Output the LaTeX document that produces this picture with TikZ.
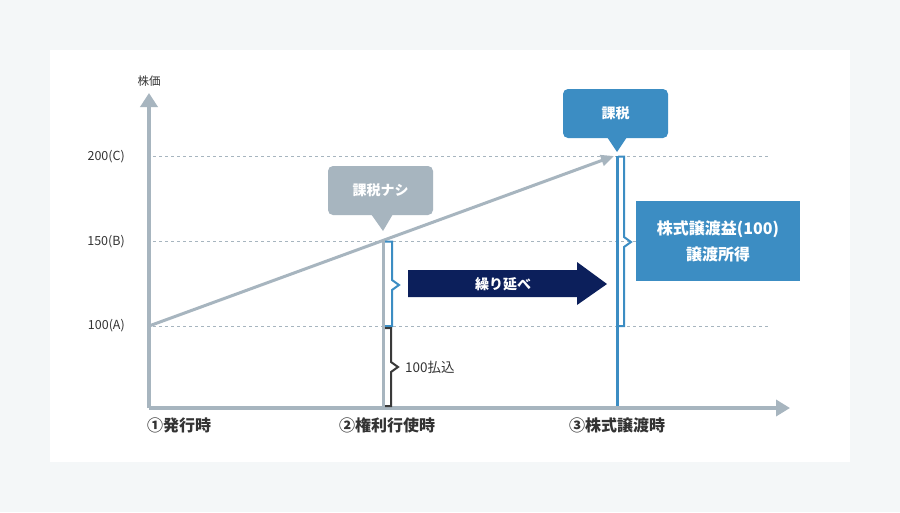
\documentclass[tikz,border=0pt]{standalone}
\usepackage{fontspec}
\setmainfont{Noto Sans CJK JP}
\usetikzlibrary{arrows.meta}
\definecolor{bgc}{HTML}{F4F7F8}
\definecolor{axisc}{HTML}{A7B5BF}
\definecolor{bluec}{HTML}{3C8DC3}
\definecolor{navyc}{HTML}{0C1F5B}
\definecolor{txtc}{HTML}{333333}
\definecolor{darkc}{HTML}{3A3A3A}
\tikzset{
  axisline/.style={draw=axisc,line width=3.5pt},
  gridline/.style={draw=axisc,line width=1pt,dash pattern=on 3pt off 3pt},
  vlabel/.style={anchor=east,font=\fontsize{12.5}{14}\selectfont,text=txtc,inner sep=0pt},
  tlabel/.style={anchor=west,font=\fontsize{16}{19}\selectfont\bfseries,text=txtc,inner sep=0pt},
  bubble/.style={rounded corners=5pt,text=white,font=\fontsize{14}{16}\selectfont\bfseries,inner sep=0pt},
  bracketline/.style={line width=2pt,line join=miter},
}
\begin{document}
\begin{tikzpicture}[x=1pt,y=-1pt]
\useasboundingbox (0,0) rectangle (900,512);
\fill[bgc] (0,0) rectangle (900,512);
\fill[white] (50,50) rectangle (850,462);
% coordinates
\coordinate (O) at (149,408);
\coordinate (Ytop) at (149,93);
\coordinate (Xend) at (790,408);
\coordinate (A) at (149,326);
\coordinate (C) at (614,156);
% grid lines
\coordinate (g1s) at (153,156); \coordinate (g1e) at (768,156);
\coordinate (g2s) at (153,241); \coordinate (g2e) at (768,241);
\coordinate (g3s) at (153,326); \coordinate (g3e) at (768,326);
\draw[gridline] (g1s) -- (g1e);
\draw[gridline] (g2s) -- (g2e);
\draw[gridline] (g3s) -- (g3e);
% value labels
\node[vlabel] (l200) at (125,157) {200(C)};
\node[vlabel] (l150) at (125,242) {150(B)};
\node[vlabel] (l100) at (125,326) {100(A)};
\node[font=\fontsize{11.5}{13}\selectfont,text=txtc,inner sep=0pt] (kabuka) at (149,81) {株価};
% diagonal
\draw[draw=axisc,line width=3pt,-{Triangle[length=13pt,width=11pt]}] (A) -- (C);
% vertical bars
\coordinate (B2) at (383,241);
\coordinate (B2b) at (383,408);
\draw[draw=axisc,line width=3pt] (B2) -- (B2b);
\coordinate (C3) at (617,156);
\coordinate (C3b) at (617,408);
\draw[draw=bluec,line width=3pt] (C3) -- (C3b);
% axes
\draw[axisline,-{Triangle[length=14pt,width=17pt]}] (O) -- (Ytop);
\draw[axisline,-{Triangle[length=14pt,width=16pt]}] (O) -- (Xend);
% brackets
\draw[bracketline,draw=bluec] (385,241.5) -- (392,241.5) -- (392,280) -- (399,285) -- (392,290) -- (392,326) -- (385,326);
\draw[bracketline,draw=darkc] (385,328) -- (391,328) -- (391,362) -- (398,367) -- (391,372) -- (391,406) -- (385,406);
\draw[bracketline,draw=bluec] (618,156.5) -- (624,156.5) -- (624,237) -- (631,242) -- (624,247) -- (624,326) -- (618,326);
\node[anchor=west,font=\fontsize{13.5}{15}\selectfont,text=txtc,inner sep=0pt] (harai) at (405,367) {100払込};
% bubble: 課税ナシ
\node[bubble,fill=axisc,minimum width=105pt,minimum height=49pt] (nashi) at (380.5,190.5) {課税ナシ};
\fill[axisc] (371,214) -- (383,231) -- (393,214) -- cycle;
% bubble: 課税
\node[bubble,fill=bluec,minimum width=105pt,minimum height=49pt] (kazei) at (615.5,113.5) {課税};
\fill[bluec] (607,137) -- (617,152) -- (627,137) -- cycle;
% blue box
\node[fill=bluec,minimum width=164pt,minimum height=80pt,inner sep=0pt,text=white,align=center,
  font=\fontsize{16}{26}\selectfont\bfseries] (gain) at (718,241) {株式譲渡益(100)\\譲渡所得};
% navy arrow
\fill[navyc] (408,270) -- (577,270) -- (577,262) -- (607,284) -- (577,305) -- (577,297) -- (408,297) -- cycle;
\node[text=white,font=\fontsize{14}{16}\selectfont\bfseries,inner sep=0pt] (defer) at (503,284) {繰り延べ};
% time labels
\node[tlabel] (t1) at (147,425) {①発行時};
\node[tlabel] (t2) at (339,425) {②権利行使時};
\node[tlabel] (t3) at (569,425) {③株式譲渡時};
\end{tikzpicture}
\end{document}
